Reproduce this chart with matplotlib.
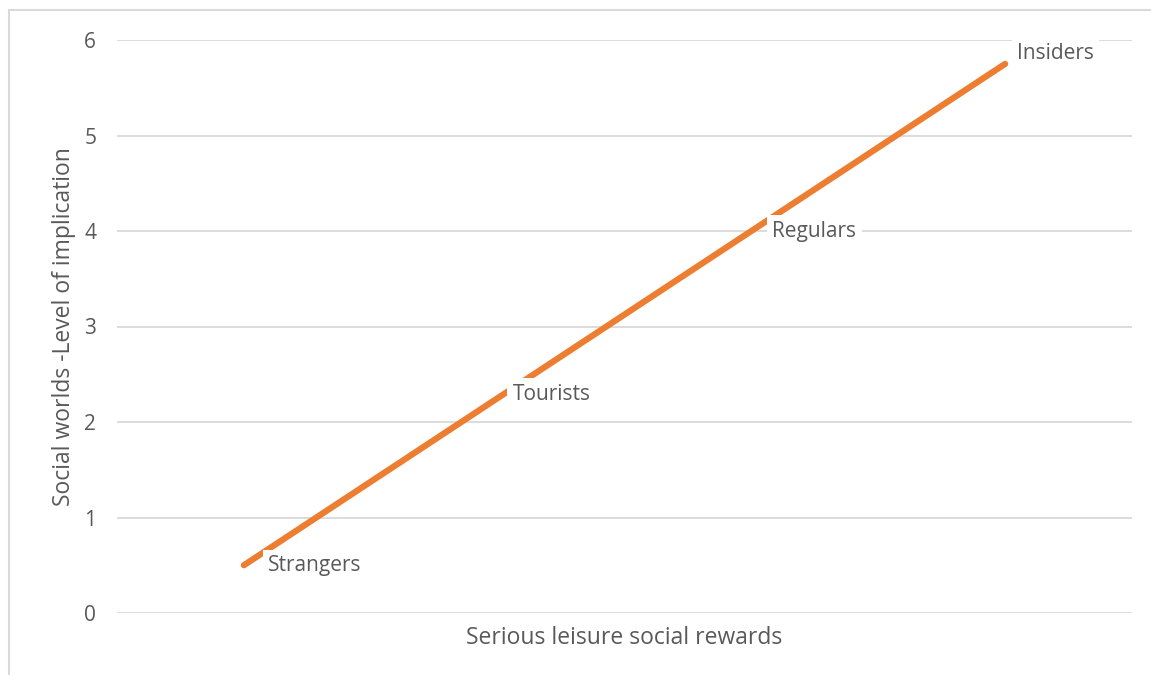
import matplotlib.pyplot as plt
from matplotlib.patches import Rectangle

# data
categories = ['Strangers', 'Tourists', 'Regulars', 'Insiders']
x_pos = [1, 2, 3, 4]
implication = [0.5, 2.25, 4.0, 5.75]
y_ticks = [0, 1, 2, 3, 4, 5, 6]

TEXT = '#595959'
GRID = '#D9D9D9'
ORANGE = '#ED7D31'

plt.rcParams['font.family'] = ['Open Sans', 'DejaVu Sans']

fig = plt.figure(figsize=(11.51, 6.75), dpi=100)
ax = fig.add_axes([117/1151, 1 - 613/675, (1132-117)/1151, (613-40)/675])

ax.plot(x_pos, implication, color=ORANGE, linewidth=4.5, solid_capstyle='round', zorder=3)

# label offsets in pixels (right of each point)
offsets = [(24, 0), (15, 4), (21, 0), (12, 10)]
for xv, yv, name, off in zip(x_pos, implication, categories, offsets):
    ax.annotate(name, (xv, yv), xytext=off, textcoords='offset pixels',
                ha='left', va='center', fontsize=15, color=TEXT, zorder=4,
                bbox=dict(boxstyle='square,pad=0.25', fc='white', ec='none'))

ax.set_xlim(0.5, 4.5)
ax.set_ylim(0, 6)
ax.set_yticks(y_ticks)
ax.set_xticks([])
ax.grid(axis='y', color=GRID, linewidth=1.3)
ax.set_axisbelow(True)
for s in ax.spines.values():
    s.set_visible(False)
ax.tick_params(axis='y', length=0, pad=15, labelsize=15, labelcolor=TEXT)

ax.set_xlabel('Serious leisure social rewards', fontsize=16.5, color=TEXT, labelpad=9)
ax.set_ylabel('Social worlds -Level of implication', fontsize=16.5, color=TEXT, labelpad=6)

# chart border (extends past right and bottom edge)
fig.patches.append(Rectangle((9/1151, -0.1), 1.2, 1 - 10/675 + 0.1, transform=fig.transFigure,
                             fill=False, ec=GRID, lw=1.5))

fig.savefig('out.png', dpi=100)
